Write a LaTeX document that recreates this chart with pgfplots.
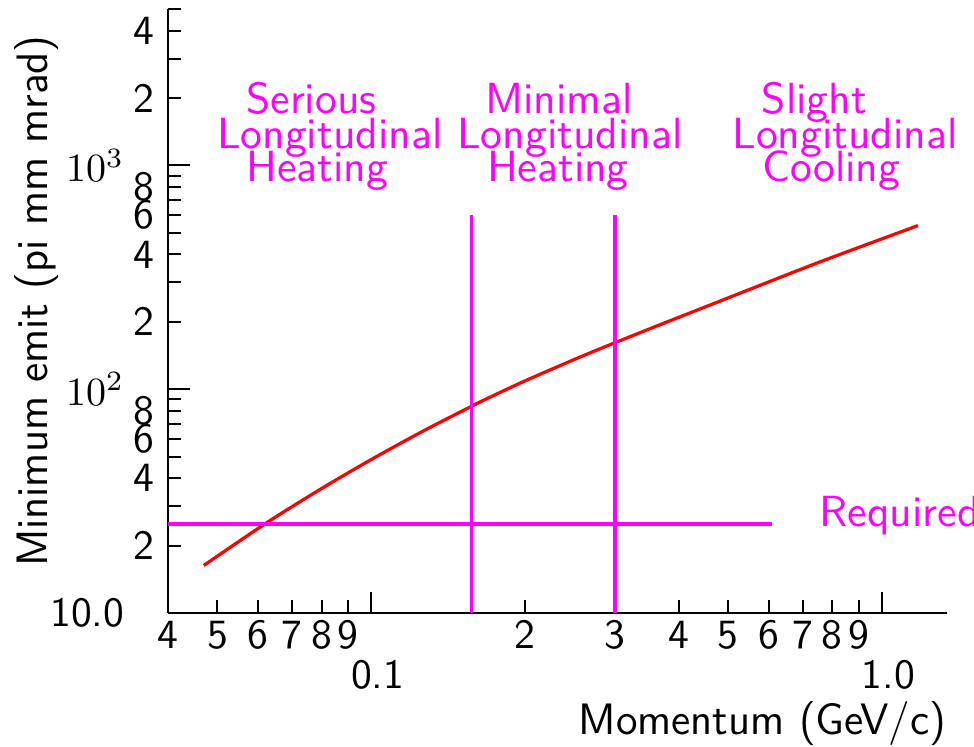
\documentclass[border=0pt]{standalone}
\usepackage{pgfplots}
\pgfplotsset{compat=1.18}
\definecolor{magn}{HTML}{FF00FF}
\definecolor{redc}{HTML}{FF0000}
\newcommand{\tickfont}{\sffamily\fontsize{10.4}{12}\selectfont}
\newcommand{\annfont}{\sffamily\fontsize{10.9}{13}\selectfont}
\newcommand{\labfont}{\sffamily\fontsize{11}{13}\selectfont}
\begin{document}
\begin{tikzpicture}[font=\sffamily]
\begin{axis}[
  scale only axis, width=194.7pt, height=151pt,
  xmode=log, ymode=log,
  xmin=0.04, xmax=1.34, ymin=10, ymax=5000,
  clip mode=individual,
  axis x line=bottom, axis y line=left,
  axis line style={-, line width=0.55pt, black},
  tick align=inside, major tick length=3.25pt, minor tick length=0pt,
  every tick/.style={black, line width=0.5pt},
  tick label style={font=\tickfont, inner sep=0pt, black},
  % labelled minor ticks
  xtick={0.04,0.05,0.06,0.07,0.08,0.09,0.2,0.3,0.4,0.5,0.6,0.7,0.8,0.9},
  xticklabels={4,5,6,7,8,9,2,3,4,5,6,7,8,9},
  x tick label style={yshift=-1.75pt},
  extra x ticks={0.1,1}, extra x tick labels={0.1,1.0},
  extra x tick style={major tick length=5.25pt, tick label style={yshift=-10pt, xshift=1.6pt}},
  ytick={20,30,40,50,60,70,80,90,200,300,400,500,600,700,800,900,2000,3000,4000,5000},
  yticklabels={2,{},4,{},6,{},8,{},2,{},4,{},6,{},8,{},2,{},4,{}},
  y tick label style={xshift=-3.25pt},
  extra y ticks={10,100,1000}, extra y tick labels={10.0,$10^2$,$10^3$},
  extra y tick style={major tick length=5.5pt, tick label style={xshift=-7.5pt}},
]
% minimum emittance vs momentum
\addplot[redc, line width=0.8pt, smooth] coordinates {
  (0.0470,16.30) (0.0624,25.29) (0.0805,36.32) (0.1009,49.04) (0.1264,65.01)
  (0.1568,83.63) (0.1708,92.08) (0.2016,109.75) (0.2526,137.2) (0.2993,160.9)
  (0.3679,194.2) (0.4609,237.8) (0.5690,287.4) (0.7684,375.5) (1.1766,538.4)};
% required level and regime boundaries
\addplot[magn, line width=0.85pt] coordinates {(0.04,25) (0.61,25)};
\addplot[magn, line width=0.85pt] coordinates {(0.157,10) (0.157,600)};
\addplot[magn, line width=0.85pt] coordinates {(0.3,10) (0.3,600)};

\node[magn, anchor=base, inner sep=0, font=\annfont] at (axis cs:0.0764,1712) {Serious};
\node[magn, anchor=base, inner sep=0, font=\annfont] at (axis cs:0.0830,1196) {Longitudinal};
\node[magn, anchor=base, inner sep=0, font=\annfont] at (axis cs:0.0785,848.5) {Heating};
\node[magn, anchor=base, inner sep=0, font=\annfont] at (axis cs:0.2334,1712) {Minimal};
\node[magn, anchor=base, inner sep=0, font=\annfont] at (axis cs:0.2451,1196) {Longitudinal};
\node[magn, anchor=base, inner sep=0, font=\annfont] at (axis cs:0.2321,848.5) {Heating};
\node[magn, anchor=base, inner sep=0, font=\annfont] at (axis cs:0.7378,1712) {Slight};
\node[magn, anchor=base, inner sep=0, font=\annfont] at (axis cs:0.8475,1196) {Longitudinal};
\node[magn, anchor=base, inner sep=0, font=\annfont] at (axis cs:0.7963,848.5) {Cooling};
\node[magn, anchor=base west, inner sep=0, font=\annfont] at (axis cs:0.753,24.3) {Required};
\end{axis}
\node[anchor=base east, inner sep=0, font=\labfont] at (194.7pt,-30.5pt) {Momentum (GeV/c)};
\node[rotate=90, anchor=base, inner sep=0, font=\labfont] at (-30pt,78pt) {Minimum emit (pi mm mrad)};
\pgfresetboundingbox
\path[use as bounding box] (-42pt,-33.5pt) rectangle (201.5pt,153.25pt);
\end{tikzpicture}
\end{document}
